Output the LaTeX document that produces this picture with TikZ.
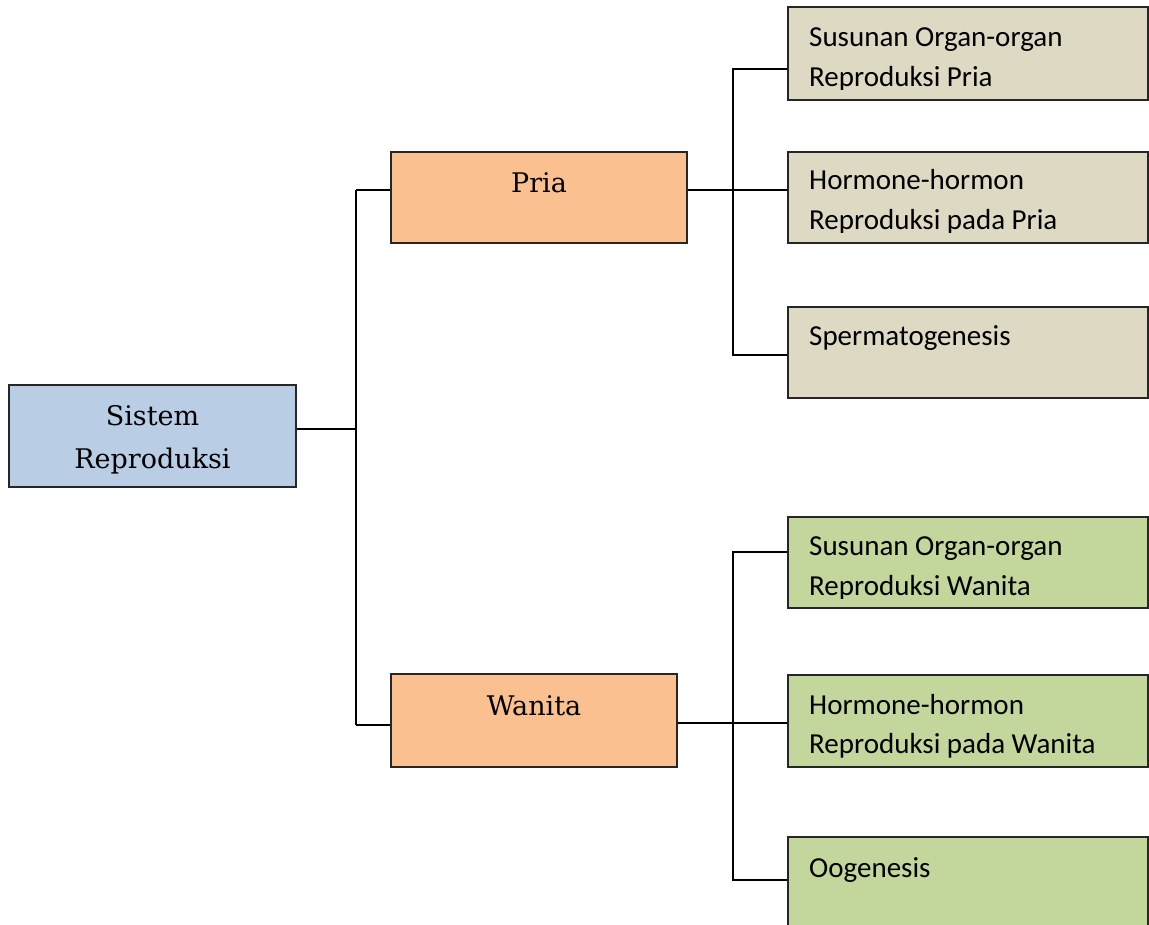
\documentclass[tikz,border=0pt]{standalone}
\usepackage{fontspec}
\setmainfont{Carlito}
\newfontfamily\seriffam{DejaVu Serif}
\definecolor{sisblue}{HTML}{B9CDE5}
\definecolor{orangefill}{HTML}{FAC090}
\definecolor{tanfill}{HTML}{DDD9C3}
\definecolor{greenfill}{HTML}{C3D69B}
\tikzset{
  box/.style={draw=black!85, line width=1.8pt, inner sep=0pt, rectangle},
  sisbox/.style={box, fill=sisblue, minimum width=287pt, minimum height=102pt},
  midbox/.style={box, fill=orangefill, minimum height=91pt},
  rbox/.style={box, minimum width=360pt},
  tanbox/.style={rbox, fill=tanfill},
  grnbox/.style={rbox, fill=greenfill},
  conn/.style={draw=black, line width=1.8pt},
  stxt/.style={anchor=base, inner sep=0pt, font=\seriffam\fontsize{27}{32}\selectfont},
  rtxt/.style={anchor=base west, inner sep=0pt, font=\fontsize{29}{35}\selectfont}
}
\begin{document}
\begin{tikzpicture}[x=1pt, y=-1pt]
\useasboundingbox (0,0) rectangle (1149,925);
\clip (0,0) rectangle (1149,925);
% boxes
\node[sisbox] (sis) at (152.5,436) {};
\node[midbox, minimum width=296pt] (pria) at (539,197.5) {};
\node[midbox, minimum width=286pt, minimum height=93pt] (wan) at (534,720.5) {};
\node[tanbox, minimum height=93pt] (r1) at (968,53.5) {};
\node[tanbox, minimum height=91pt] (r2) at (968,197.5) {};
\node[tanbox, minimum height=91pt] (r3) at (968,352.5) {};
\node[grnbox, minimum height=91pt] (g1) at (968,562.5) {};
\node[grnbox, minimum height=92pt] (g2) at (968,721) {};
\node[grnbox, minimum height=92pt] (g3) at (968,883) {};
% serif labels
\node[stxt] (tsis1) at (152.5,425) {Sistem};
\node[stxt] (tsis2) at (152.5,468) {Reproduksi};
\node[stxt] (tpria) at (539,193) {Pria};
\node[stxt] (twan) at (534,715) {Wanita};
% right labels (clipped at bottom like the text boxes)
\begin{scope}
\clip (788,7) rectangle (1148,90);
\node[rtxt] (tr1a) at (809,47) {Susunan Organ-organ};
\node[rtxt] (tr1b) at (809,87) {Reproduksi Pria};
\end{scope}
\begin{scope}
\clip (788,152) rectangle (1148,233);
\node[rtxt] (tr2a) at (809,190) {Hormone-hormon};
\node[rtxt] (tr2b) at (809,230) {Reproduksi pada Pria};
\end{scope}
\node[rtxt] (tr3) at (809,345) {Spermatogenesis};
\begin{scope}
\clip (788,517) rectangle (1148,598);
\node[rtxt] (tg1a) at (809,555) {Susunan Organ-organ};
\node[rtxt] (tg1b) at (809,595) {Reproduksi Wanita};
\end{scope}
\begin{scope}
\clip (788,675) rectangle (1148,757);
\node[rtxt] (tg2a) at (809,714) {Hormone-hormon};
\node[rtxt] (tg2b) at (809,753) {Reproduksi pada Wanita};
\end{scope}
\node[rtxt] (tg3) at (809,877) {Oogenesis};
% connectors
\coordinate (jA) at (356,429);
\coordinate (jP) at (356,190);
\coordinate (jW) at (356,725);
\draw[conn] (sis.east |- jA) -- (jA);
\draw[conn] (jP) -- (jW);
\draw[conn] (jP) -- (pria.west |- jP);
\draw[conn] (jW) -- (wan.west |- jW);
\draw[conn] (pria.east |- jP) -- (r2.west |- jP);
\coordinate (kT) at (733,69);
\coordinate (kB) at (733,355);
\draw[conn] (r1.west |- kT) -- (kT) -- (kB) -- (r3.west |- kB);
\coordinate (mT) at (733,552);
\coordinate (mB) at (733,880);
\coordinate (mW) at (733,723);
\draw[conn] (g1.west |- mT) -- (mT) -- (mB) -- (g3.west |- mB);
\draw[conn] (wan.east |- mW) -- (g2.west |- mW);
\end{tikzpicture}
\end{document}
